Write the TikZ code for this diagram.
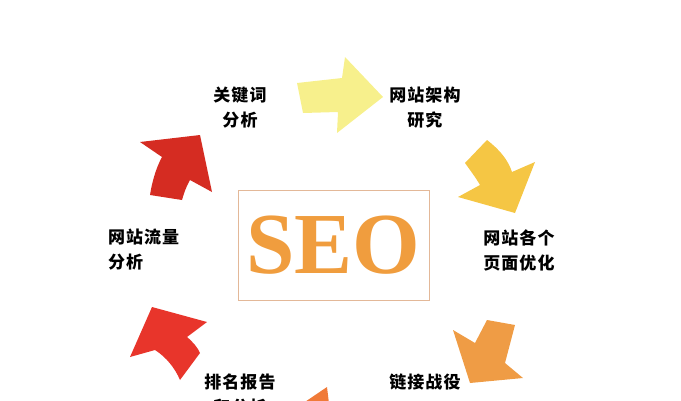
\documentclass[tikz,border=0pt]{standalone}
\usepackage{fontspec}
\setmainfont{Liberation Serif}
\newfontfamily\cjk{Noto Sans CJK SC}[LetterSpace=6]
\usetikzlibrary{positioning}

\definecolor{arrowyellow}{HTML}{F7F08C}
\definecolor{arrowgold}{HTML}{F5C644}
\definecolor{arroworange}{HTML}{EF9C45}
\definecolor{arrowcoral}{HTML}{F07A38}
\definecolor{arrowred}{HTML}{E8352B}
\definecolor{arrowdark}{HTML}{D52C22}
\definecolor{seoorange}{HTML}{F09D3E}
\definecolor{seoframe}{HTML}{E3B898}

\begin{document}
\begin{tikzpicture}[
    x = 1pt, % one pixel
    y = -1pt, % y runs down as in the picture
    seotext/.style = {font=\cjk\bfseries\fontsize{17}{25}\selectfont, align=center, inner sep=0pt},
    seoarrow/.style = {draw=none}
    ]

    \useasboundingbox (0,0) rectangle (681,400);
    \clip (0,0) rectangle (681,400);

    % centre box
    \node[draw=seoframe, line width=1pt, minimum width=191pt, minimum height=110pt,
          text=seoorange, font=\bfseries\fontsize{87}{87}\selectfont] (seo) at (333.5,245) {SEO};

    % steps round the box
    \node[seotext] (kw) at (240,107.5) {关键词\\分析};
    \node[seotext] (arch) at (425,108) {网站架构\\研究};
    \node[seotext] (page) at (519,250) {网站各个\\页面优化};
    \node[seotext] (link) at (425,382) {链接战役};
    \node[seotext] (rank) at (240,394.5) {排名报告\\和分析};
    \node[seotext, align=left, anchor=west] (flow) at (108,250) {网站流量\\分析};

    % arrows between the steps
    \fill[seoarrow, arrowyellow] (297,83) -- (342,78) -- (345,57) -- (383,97) -- (337,133) -- (338,112) -- (303,113) -- cycle;
    \fill[seoarrow, arrowgold] (487,140) .. controls (500,150) and (508,160) .. (512,172) -- (535,162) -- (515,213)
        -- (458,197) -- (480,185) .. controls (476,178) and (470,170) .. (465,163) -- cycle;
    \fill[seoarrow, arroworange] (453,330) -- (475,343) -- (487,320) -- (515,325) -- (505,363) -- (523,378) -- (470,383) -- cycle;
    \fill[seoarrow, arrowcoral] (327,387) -- (331,420) -- (296,408) -- cycle;
    \fill[seoarrow, arrowred] (152,307) -- (207,322) -- (187,337) .. controls (193,342) and (198,348) .. (200,353)
        -- (180,380) .. controls (175,368) and (166,357) .. (155,350) -- (130,357) -- cycle;
    \fill[seoarrow, arrowdark] (140,142) -- (200,135) -- (212,192) -- (190,180) .. controls (186,187) and (184,193) .. (182,200)
        -- (150,195) .. controls (152,182) and (156,168) .. (162,157) -- cycle;
\end{tikzpicture}
\end{document}
